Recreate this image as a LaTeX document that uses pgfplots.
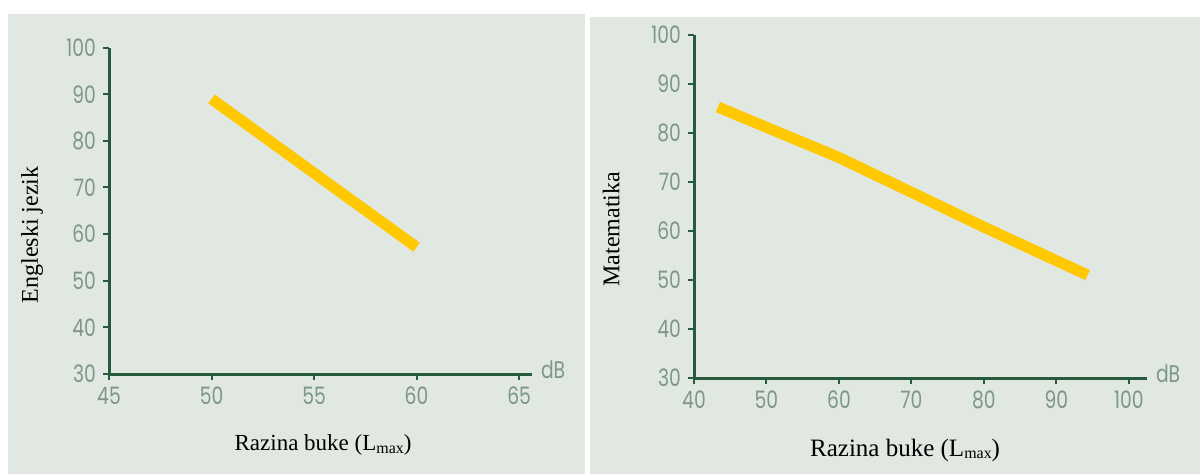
\documentclass[border=0pt]{standalone}
\usepackage{pgfplots}
\pgfplotsset{compat=1.18}
\usepackage{fontspec}
\setmainfont{Liberation Serif}
\newfontfamily\tickfont[FakeStretch=0.78]{Poppins}

\definecolor{panelbg}{RGB}{225,232,226}
\definecolor{axisgreen}{RGB}{40,90,62}
\definecolor{tickgrey}{RGB}{125,150,140}
\definecolor{lineyellow}{RGB}{255,200,0}

\pgfplotsset{
  noiseplot/.style={
    scale only axis,
    axis lines*=left,
    axis line style={axisgreen, line width=1.5bp},
    tick style={axisgreen, line width=1bp},
    major tick length=3bp,
    tick align=outside,
    ymin=30, ymax=100,
    ytick={30,40,...,100},
    ticklabel style={font=\tickfont\fontsize{12bp}{13bp}\selectfont, text=tickgrey},
    /pgf/number format/assume math mode=true,
    xtick pos=bottom, ytick pos=left,
    label style={font=\fontsize{12bp}{14bp}\selectfont},
    clip=false,
  },
  noiseline/.style={lineyellow, line width=5.5bp, line cap=butt, line join=round, no marks},
}

\begin{document}
\begin{tikzpicture}
\useasboundingbox (0,0) rectangle (600bp,237bp);
\fill[panelbg] (4bp,0) rectangle (292.5bp,230bp);
\fill[panelbg] (295bp,0) rectangle (600bp,228.5bp);

% left panel
\begin{axis}[noiseplot,
    at={(54.5bp,50bp)}, anchor=south west,
    width=211.5bp, height=163.2bp,
    xmin=45, xmax=65.63,
    xtick={45,50,55,60,65},
    xlabel={Razina buke (L\raisebox{-0.25ex}{\footnotesize max})},
    xlabel style={at={(axis description cs:0.506,0)}, anchor=center, yshift=-35.5bp,
      font=\fontsize{11.5bp}{13bp}\selectfont},
    ylabel={Engleski jezik},
    ylabel style={at={(axis description cs:-0.182,0.426)}, anchor=center},
]
\addplot[noiseline] coordinates {(50,89) (60,57.2)};
\node[anchor=west, font=\tickfont\fontsize{12bp}{13bp}\selectfont, text=tickgrey, xshift=1bp, yshift=2bp]
  at (axis cs:65.63,30) {dB};
\end{axis}

% right panel
\begin{axis}[noiseplot,
    at={(347bp,48bp)}, anchor=south west,
    width=226.5bp, height=171.5bp,
    xmin=40, xmax=102.5,
    xtick={40,50,...,100},
    xlabel={Razina buke (L\raisebox{-0.25ex}{\footnotesize max})},
    xlabel style={at={(axis description cs:0.466,0)}, anchor=center, yshift=-36bp,
      font=\fontsize{12.5bp}{14bp}\selectfont},
    ylabel={Matematika},
    ylabel style={at={(axis description cs:-0.183,0.434)}, anchor=center},
]
\addplot[noiseline] coordinates {(43.3,85.3) (60,75) (80,60.8) (94.3,51)};
\node[anchor=west, font=\tickfont\fontsize{12bp}{13bp}\selectfont, text=tickgrey, xshift=1bp, yshift=2bp]
  at (axis cs:102.5,30) {dB};
\end{axis}
\end{tikzpicture}
\end{document}
